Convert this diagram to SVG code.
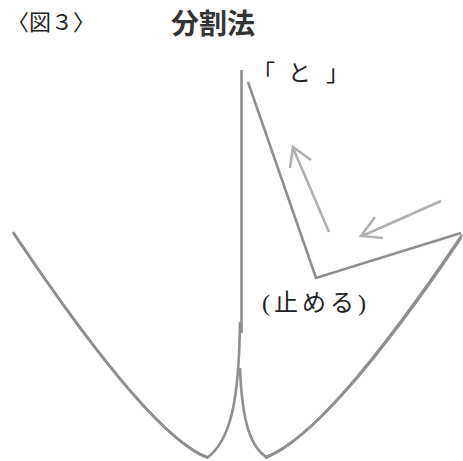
<svg xmlns="http://www.w3.org/2000/svg" width="463" height="461" viewBox="0 0 463 461">
<style>
.ln{fill:none;stroke:#8f8f8f;stroke-width:2.6;stroke-linecap:butt;stroke-linejoin:miter}
.ar{fill:none;stroke:#b0b0b0;stroke-width:2.6}
.mincho{font-family:"Liberation Serif","Noto Sans CJK JP",serif;fill:#222}
.goth{font-family:"Noto Sans CJK JP",sans-serif;font-weight:bold;fill:#333}
</style>
<rect width="463" height="461" fill="#fff"/>
<g id="title">
<text class="mincho" x="7" y="30" font-size="22">〈図３〉</text>
<text class="goth" x="171" y="34" font-size="28">分割法</text>
</g>
<g id="label-to"><text class="mincho" y="81" font-size="23"><tspan x="252">「</tspan><tspan x="288">と</tspan><tspan x="326">」</tspan></text></g>
<g id="label-tomeru"><text class="mincho" x="262" y="311" font-size="24" letter-spacing="4">(止める)</text></g>
<g id="connectors">
<path class="ln" d="M241.5,70 V333"/>
<path class="ln" d="M13,232 Q149,436 208,458"/>
<path class="ln" d="M14,234 Q151,437 207,457" stroke-width="1.4"/>
<path class="ln" d="M240,322 C239,400 231,440 207,458"/>
<path class="ln" d="M240,368 C242,420 250,448 268,458"/>
<path class="ln" d="M462,235 Q326,436 265,458"/>
<path class="ln" d="M461,238 Q330,432 266,457" stroke-width="1.4"/>
<path class="ln" d="M248,82 L316,278 L461,233"/>
<path class="ar" d="M329,232 L293,148 M290,168 L293,147 L311,160"/>
<path class="ar" d="M441,201 L362,236 M375,217 L361,236 L383,238"/>
</g>
</svg>
